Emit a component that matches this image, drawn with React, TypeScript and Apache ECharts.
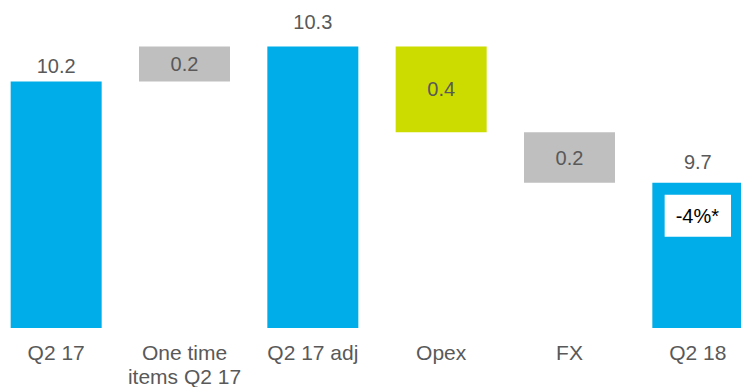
import React, { useEffect, useRef } from "react";
import * as echarts from "echarts";

const categories = ["Q2 17", "One time\nitems Q2 17", "Q2 17 adj", "Opex", "FX", "Q2 18"];
// bar tops for totals
const totals: (number | null)[] = [10.12, null, 10.28, null, null, 9.66];
// floating steps: lower edge and size
const stepLow: (number | null)[] = [null, 10.12, null, 9.89, 9.66, null];
const stepSize: (number | null)[] = [null, 0.16, null, 0.39, 0.23, null];
const valueLabels = ["10.2", "0.2", "10.3", "0.4", "0.2", "9.7"];
const changeLabel = "-4%*";

const BLUE = "#00ADE8";
const GRAY = "#BFBFBF";
const LIME = "#CCDC00";
const TEXT = "#595959";
const FONT = "'Liberation Sans', Arial, sans-serif";
const stepColors = [null, GRAY, null, LIME, GRAY, null];
const totalLabelDistance = [6, 0, 14, 0, 0, 11];

export default function App() {
  const ref = useRef<HTMLDivElement>(null);
  useEffect(() => {
    if (!ref.current) return;
    const chart = echarts.init(ref.current, null, { renderer: "svg" });
    const common = { type: "bar", barWidth: 91, barGap: "-100%" };
    chart.setOption({
      animation: false,
      backgroundColor: "#ffffff",
      grid: { left: -8, width: 770, top: 20, bottom: 59, outerBoundsMode: "none", containLabel: false },
      xAxis: {
        type: "category",
        data: categories,
        axisLine: { show: false },
        axisTick: { show: false },
        axisLabel: {
          color: TEXT,
          fontSize: 21,
          fontFamily: FONT,
          lineHeight: 24,
          margin: 12,
          interval: 0,
        },
      },
      yAxis: { type: "value", min: 9, max: 10.4, show: false, splitLine: { show: false } },
      series: [
        {
          ...common,
          name: "totals",
          data: totals.map((v, i) =>
            v == null
              ? "-"
              : { value: v, label: { distance: totalLabelDistance[i] } }
          ),
          itemStyle: { color: BLUE },
          label: {
            show: true,
            position: "top",
            color: TEXT,
            fontSize: 20,
            fontFamily: FONT,
            formatter: (p: any) => valueLabels[p.dataIndex],
          },
        },
        {
          ...common,
          name: "base",
          stack: "w",
          data: stepLow.map((v) => (v == null ? "-" : v)),
          itemStyle: { color: "transparent" },
          silent: true,
        },
        {
          ...common,
          name: "steps",
          stack: "w",
          data: stepSize.map((v, i) =>
            v == null ? "-" : { value: v, itemStyle: { color: stepColors[i] } }
          ),
          label: {
            show: true,
            position: "inside",
            color: TEXT,
            fontSize: 20,
            fontFamily: FONT,
            formatter: (p: any) => valueLabels[p.dataIndex],
          },
        },
        {
          ...common,
          name: "change",
          data: totals.map((v, i) => (i === totals.length - 1 && v != null ? v : "-")),
          itemStyle: { color: "transparent" },
          label: {
            show: true,
            position: "insideTop",
            distance: 12,
            formatter: changeLabel,
            color: "#000000",
            fontSize: 20,
            fontFamily: FONT,
            lineHeight: 20,
            backgroundColor: "#ffffff",
            padding: [11, 12, 11, 11],
          },
        },
      ],
    });
    return () => chart.dispose();
  }, []);
  return (
    <div
      ref={ref}
      style={{ position: "fixed", left: 0, top: 0, width: 741, height: 387, background: "#fff" }}
    />
  );
}
